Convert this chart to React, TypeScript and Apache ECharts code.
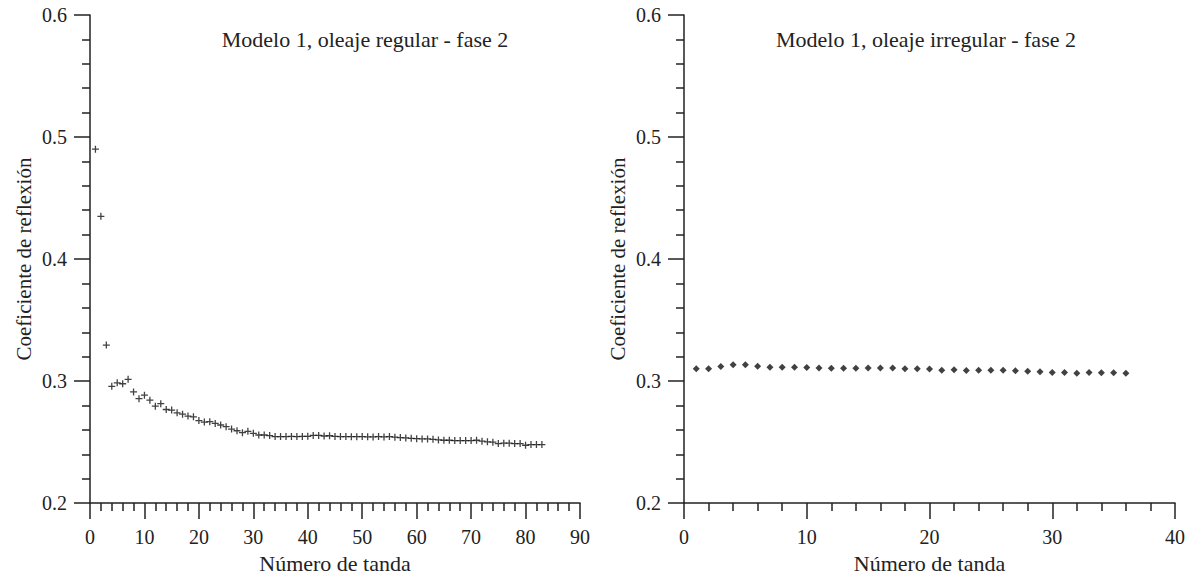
import React, { useEffect, useRef } from "react";
import * as echarts from "echarts";

// Left chart: "Modelo 1, oleaje regular - fase 2" (tanda 1..83)
const regularTanda: number[] = Array.from({ length: 83 }, (_, i) => i + 1);
const regularValues: number[] = [
  0.490, 0.435, 0.3295, 0.2957, 0.2986, 0.2978, 0.3014, 0.2911, 0.2856, 0.2884,
  0.2843, 0.2794, 0.2815, 0.2767, 0.2762, 0.2740, 0.2729, 0.2713, 0.2707, 0.2676,
  0.2664, 0.2667, 0.2653, 0.2640, 0.2626, 0.2607, 0.2593, 0.2577, 0.2588, 0.2572,
  0.2558, 0.2558, 0.2553, 0.2545, 0.2545, 0.2545, 0.2546, 0.2545, 0.2546, 0.2547,
  0.2555, 0.2555, 0.2550, 0.2552, 0.2546, 0.2545, 0.2545, 0.2544, 0.2544, 0.2545,
  0.2543, 0.2542, 0.2545, 0.2542, 0.2545, 0.2540, 0.2537, 0.2534, 0.2531, 0.2528,
  0.2526, 0.2526, 0.2523, 0.2518, 0.2515, 0.2515, 0.2512, 0.2512, 0.2512, 0.2512,
  0.2515, 0.2507, 0.2502, 0.2499, 0.2488, 0.2491, 0.2491, 0.2488, 0.2488, 0.2474,
  0.2480, 0.2480, 0.2480,
];

// Right chart: "Modelo 1, oleaje irregular - fase 2" (tanda 1..36)
const irregularTanda: number[] = Array.from({ length: 36 }, (_, i) => i + 1);
const irregularValues: number[] = [
  0.3100, 0.3100, 0.3119, 0.3133, 0.3133, 0.3122, 0.3114, 0.3114, 0.3114, 0.3111,
  0.3108, 0.3106, 0.3106, 0.3106, 0.3108, 0.3108, 0.3108, 0.3102, 0.3100, 0.3098,
  0.3089, 0.3092, 0.3087, 0.3089, 0.3089, 0.3089, 0.3084, 0.3081, 0.3076, 0.3071,
  0.3071, 0.3065, 0.3071, 0.3068, 0.3068, 0.3065,
];

const titleLeft = "Modelo 1, oleaje regular - fase 2";
const titleRight = "Modelo 1, oleaje irregular - fase 2";
const xName = "Número de tanda";
const yName = "Coeficiente de reflexión";

const FONT = "Liberation Serif";
const INK = "#222222";

function xAxisCfg(gridIndex: number, max: number) {
  return {
    type: "value",
    gridIndex,
    min: 0,
    max,
    interval: 10,
    name: xName,
    nameLocation: "middle",
    nameGap: 48,
    nameTextStyle: { fontFamily: FONT, fontSize: 22, color: INK },
    axisLine: { show: true, onZero: false, lineStyle: { color: INK, width: 1.5 } },
    axisTick: { show: true, length: 16, lineStyle: { color: INK, width: 1.5 } },
    minorTick: { show: true, splitNumber: 5, length: 8, lineStyle: { color: INK, width: 1.5 } },
    axisLabel: { fontFamily: FONT, fontSize: 20, color: INK, margin: 24 },
    splitLine: { show: false },
    minorSplitLine: { show: false },
  };
}

function yAxisCfg(gridIndex: number) {
  return {
    type: "value",
    gridIndex,
    min: 0.2,
    max: 0.6,
    interval: 0.1,
    name: yName,
    nameLocation: "middle",
    nameGap: 56,
    nameTextStyle: { fontFamily: FONT, fontSize: 21, color: INK },
    axisLine: { show: true, onZero: false, lineStyle: { color: INK, width: 1.5 } },
    axisTick: { show: true, length: 16, lineStyle: { color: INK, width: 1.5 } },
    minorTick: { show: true, splitNumber: 5, length: 8, lineStyle: { color: INK, width: 1.5 } },
    axisLabel: {
      fontFamily: FONT,
      fontSize: 20,
      color: INK,
      margin: 23,
      formatter: (v: number) => v.toFixed(1),
    },
    splitLine: { show: false },
    minorSplitLine: { show: false },
  };
}

const PLUS = "path://M2.45,0H3.55V2.45H6V3.55H3.55V6H2.45V3.55H0V2.45H2.45Z";

export default function App() {
  const ref = useRef<HTMLDivElement>(null);
  useEffect(() => {
    if (!ref.current) return;
    const chart = echarts.init(ref.current, undefined, { renderer: "svg" });
    chart.setOption({
      animation: false,
      backgroundColor: "#ffffff",
      grid: [
        { left: 90, top: 15, width: 490, height: 492, containLabel: false },
        { left: 684, top: 15, width: 492, height: 492, containLabel: false },
      ],
      xAxis: [xAxisCfg(0, 90), xAxisCfg(1, 40)],
      yAxis: [yAxisCfg(0), yAxisCfg(1)],
      graphic: [
        {
          type: "text",
          x: 365,
          y: 39,
          style: {
            text: titleLeft,
            font: `22px "${FONT}"`,
            fill: INK,
            textAlign: "center",
            textVerticalAlign: "middle",
          },
        },
        {
          type: "text",
          x: 926,
          y: 39,
          style: {
            text: titleRight,
            font: `22px "${FONT}"`,
            fill: INK,
            textAlign: "center",
            textVerticalAlign: "middle",
          },
        },
      ],
      series: [
        {
          type: "scatter",
          xAxisIndex: 0,
          yAxisIndex: 0,
          symbol: PLUS,
          symbolSize: 7,
          itemStyle: { color: "#111111" },
          data: regularTanda.map((t, i) => [t, regularValues[i]]),
        },
        {
          type: "scatter",
          xAxisIndex: 1,
          yAxisIndex: 1,
          symbol: "diamond",
          symbolSize: 7,
          itemStyle: { color: "#111111" },
          data: irregularTanda.map((t, i) => [t, irregularValues[i]]),
        },
      ],
    });
    return () => chart.dispose();
  }, []);
  return (
    <div
      ref={ref}
      style={{ position: "fixed", left: 0, top: 0, width: 1188, height: 579, background: "#fff" }}
    />
  );
}
